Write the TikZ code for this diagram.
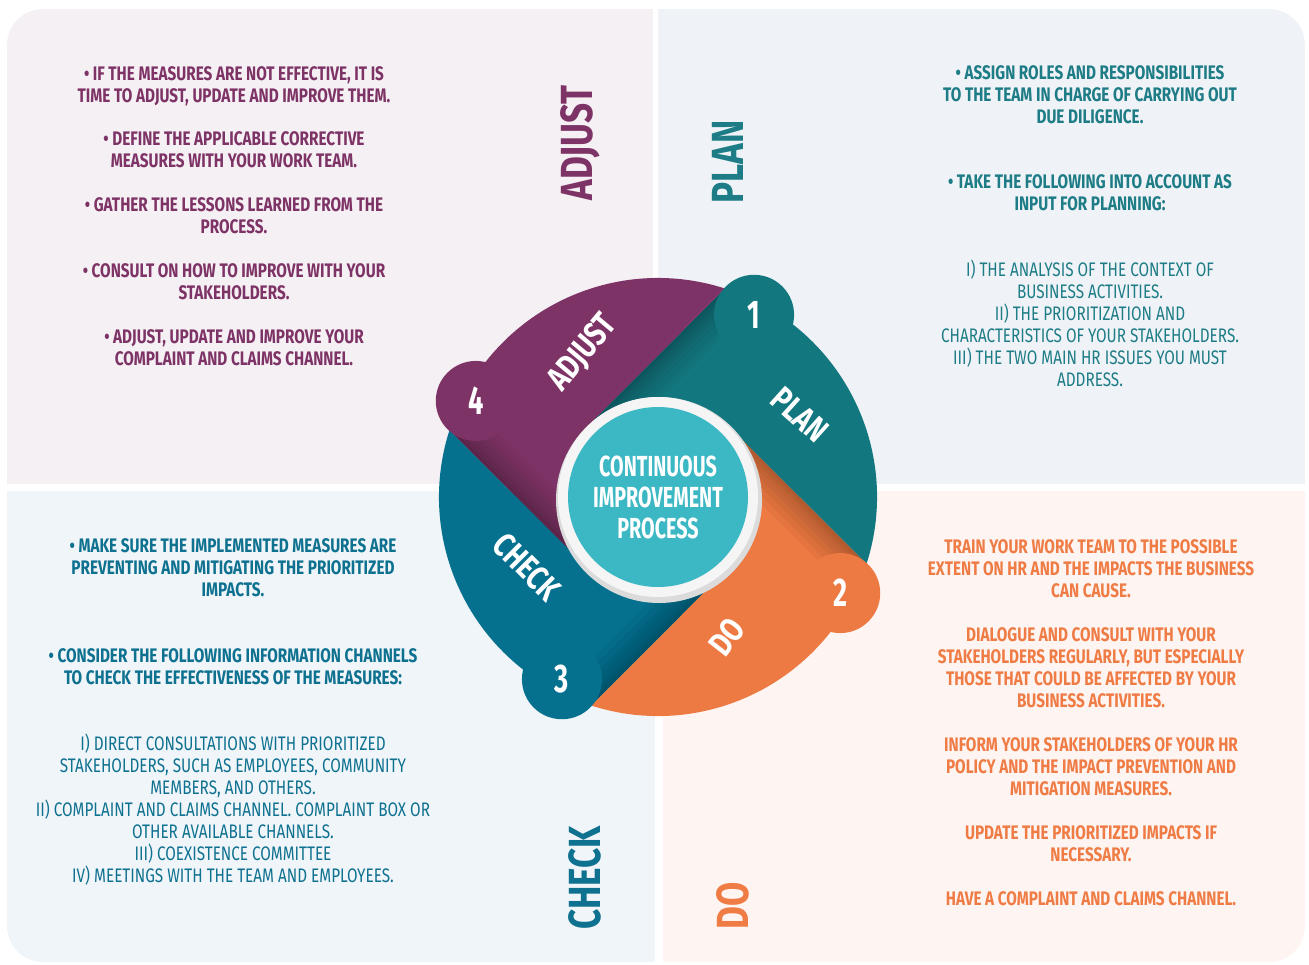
\documentclass[tikz,border=0pt]{standalone}
\usepackage{fontspec}
\setmainfont{Fira Sans}[FakeStretch=0.78]
\newfontfamily\hubfont{Fira Sans}[FakeStretch=0.68]
\usetikzlibrary{calc,positioning}

\definecolor{adjustcol}{HTML}{7E3366}
\definecolor{plancol}{HTML}{13777F}
\definecolor{docol}{HTML}{EE7A43}
\definecolor{checkcol}{HTML}{05718F}
\definecolor{corecol}{HTML}{3CB8C4}
\definecolor{ringcol}{HTML}{F5F5F5}
\definecolor{adjustbg}{HTML}{F5F0F4}
\definecolor{planbg}{HTML}{EFF3F7}
\definecolor{checkbg}{HTML}{F0F5F9}
\definecolor{dobg}{HTML}{FEF5F2}
\definecolor{plantext}{HTML}{1E7C86}
\definecolor{checktext}{HTML}{0E7190}
\definecolor{dotext}{HTML}{EF7B45}

% multi-line nodes sit on the baseline of their last line
\tikzstyle{bodytext}=[align=center, anchor=base, inner sep=0pt, font=\bfseries\fontsize{9.8}{11}\selectfont]
\tikzstyle{listtext}=[align=center, anchor=base, inner sep=0pt, font=\fontsize{9.8}{11}\selectfont]
\tikzstyle{title}=[rotate=90, inner sep=0pt, font=\bfseries\fontsize{22.5}{22.5}\selectfont]
\tikzstyle{seglabel}=[text=white, inner sep=0pt, font=\bfseries\fontsize{17}{17}\selectfont]
\tikzstyle{numdot}=[circle, minimum size=40pt, inner sep=0pt, text=white, font=\hubfont\bfseries\fontsize{20}{20}\selectfont]
\tikzstyle{shadowband}=[black, opacity=0.04]

\begin{document}
\begin{tikzpicture}[x=0.5pt, y=0.5pt]
    \useasboundingbox (0,0) rectangle (1309,-964);

    % the four panels, outer corners rounded
    \begin{scope}
        \clip[rounded corners=18pt] (7,-9) rectangle (1305,-962);
        \fill[adjustbg] (7,-9) rectangle (653,-484);
        \fill[planbg] (658,-9) rectangle (1305,-484);
        \fill[checkbg] (7,-491) rectangle (655,-962);
        \fill[dobg] (663,-491) rectangle (1305,-962);
    \end{scope}

    % panel titles
    \node[title, text=adjustcol] (adjust-title) at (580,-143) {ADJUST};
    \node[title, text=plantext] (plan-title) at (728,-162) {PLAN};
    \node[title, text=checktext] (check-title) at (585,-878) {CHECK};
    \node[title, text=dotext] (do-title) at (733,-906) {DO};

    % adjust panel
    \foreach \y/\txt [count=\i] in {95/{• IF THE MEASURES ARE NOT EFFECTIVE, IT IS\\TIME TO ADJUST, UPDATE AND IMPROVE THEM.},
        160/{• DEFINE THE APPLICABLE CORRECTIVE\\MEASURES WITH YOUR WORK TEAM.},
        226/{• GATHER THE LESSONS LEARNED FROM THE\\PROCESS.},
        292/{• CONSULT ON HOW TO IMPROVE WITH YOUR\\STAKEHOLDERS.},
        358/{• ADJUST, UPDATE AND IMPROVE YOUR\\COMPLAINT AND CLAIMS CHANNEL.}}
        \node[bodytext, text=adjustcol] (adjust-\i) at (234,-\y-7) {\txt};

    % plan panel
    \foreach \y/\txt [count=\i] in {116/{• ASSIGN ROLES AND RESPONSIBILITIES\\TO THE TEAM IN CHARGE OF CARRYING OUT\\DUE DILIGENCE.},
        203/{• TAKE THE FOLLOWING INTO ACCOUNT AS\\INPUT FOR PLANNING:}}
        \node[bodytext, text=plantext] (plan-\i) at (1090,-\y-7) {\txt};
    \node[listtext, text=plantext] (plan-list) at (1090,-386) {I) THE ANALYSIS OF THE CONTEXT OF\\BUSINESS ACTIVITIES.\\II) THE PRIORITIZATION AND\\CHARACTERISTICS OF YOUR STAKEHOLDERS.\\III) THE TWO MAIN HR ISSUES YOU MUST\\ADDRESS.};

    % check panel
    \foreach \y/\txt [count=\i] in {589/{• MAKE SURE THE IMPLEMENTED MEASURES ARE\\PREVENTING AND MITIGATING THE PRIORITIZED\\IMPACTS.},
        677/{• CONSIDER THE FOLLOWING INFORMATION CHANNELS\\TO CHECK THE EFFECTIVENESS OF THE MEASURES:}}
        \node[bodytext, text=checktext] (check-\i) at (233,-\y-7) {\txt};
    \node[listtext, text=checktext] (check-list) at (233,-882) {I) DIRECT CONSULTATIONS WITH PRIORITIZED\\STAKEHOLDERS, SUCH AS EMPLOYEES, COMMUNITY\\MEMBERS, AND OTHERS.\\II) COMPLAINT AND CLAIMS CHANNEL. COMPLAINT BOX OR\\OTHER AVAILABLE CHANNELS.\\III) COEXISTENCE COMMITTEE\\IV) MEETINGS WITH THE TEAM AND EMPLOYEES.};

    % do panel
    \foreach \y/\txt [count=\i] in {590/{TRAIN YOUR WORK TEAM TO THE POSSIBLE\\EXTENT ON HR AND THE IMPACTS THE BUSINESS\\CAN CAUSE.},
        700/{DIALOGUE AND CONSULT WITH YOUR\\STAKEHOLDERS REGULARLY, BUT ESPECIALLY\\THOSE THAT COULD BE AFFECTED BY YOUR\\BUSINESS ACTIVITIES.},
        788/{INFORM YOUR STAKEHOLDERS OF YOUR HR\\POLICY AND THE IMPACT PREVENTION AND\\MITIGATION MEASURES.},
        854/{UPDATE THE PRIORITIZED IMPACTS IF\\NECESSARY.},
        898/{HAVE A COMPLAINT AND CLAIMS CHANNEL.}}
        \node[bodytext, text=dotext] (do-\i) at (1091,-\y-7) {\txt};

    % the wheel: four pieces cut by tangents of the hub,
    % each one darker along the edge where it starts
    \coordinate (hub) at (658,-497);
    \def\rin{50pt}
    \def\rout{109.5pt}
    \foreach \a/\col in {135/plancol, 45/docol, -45/checkcol, -135/adjustcol}{
        \fill[\col] (hub) -- ($(hub)+(\a:\rin)$) -- ($(hub)+(\a-62.8:\rout)$)
            arc[start angle=\a-62.8, end angle=\a-152.8, radius=\rout]
            -- ($(hub)+(\a-90:\rin)$) -- cycle;
        \begin{scope}
            \clip (hub) -- ($(hub)+(\a:\rin)$) -- ($(hub)+(\a-62.8:\rout)$)
                arc[start angle=\a-62.8, end angle=\a-152.8, radius=\rout]
                -- ($(hub)+(\a-90:\rin)$) -- cycle;
            \foreach \w in {16pt, 13pt, 10pt, 7.5pt, 5pt, 3pt, 1.5pt}
                \fill[shadowband] ($(hub)+(\a:\rin)+(\a+90:10pt)$) -- ($(hub)+(\a-62.8:\rout)+(\a-90:10pt)$)
                    -- ($(hub)+(\a-62.8:\rout)+(\a-90:10pt)+(\a-180:\w)$) -- ($(hub)+(\a:\rin)+(\a+90:10pt)+(\a-180:\w)$) -- cycle;
        \end{scope}
    }

    % step numbers
    \foreach \a/\col/\name/\num in {135/plancol/plan/1, 45/docol/do/2, -45/checkcol/check/3, -135/adjustcol/adjust/4}
        \node[numdot, fill=\col] (\name-num) at ($(hub)+(\a-72.8:103pt)$) {\num};

    % labels on the wheel
    \node[seglabel, rotate=50] (adjust-seg) at (583,-353) {ADJUST};
    \node[seglabel, rotate=-42] (plan-seg) at (800,-415) {PLAN};
    \node[seglabel, rotate=52] (do-seg) at (727,-637) {DO};
    \node[seglabel, rotate=-45] (check-seg) at (527,-567) {CHECK};

    % hub
    \fill[black!14] ($(hub)+(0.5pt,-1.5pt)$) circle (51.5pt);
    \node[circle, fill=ringcol, minimum size=100pt, inner sep=0pt] (ring) at (hub) {};
    \node[circle, fill=corecol, minimum size=90pt, inner sep=0pt, text=white, align=center,
        font=\hubfont\bfseries\fontsize{14.5}{15.5}\selectfont] (core) at (hub) {CONTINUOUS\\IMPROVEMENT\\PROCESS};
\end{tikzpicture}
\end{document}
